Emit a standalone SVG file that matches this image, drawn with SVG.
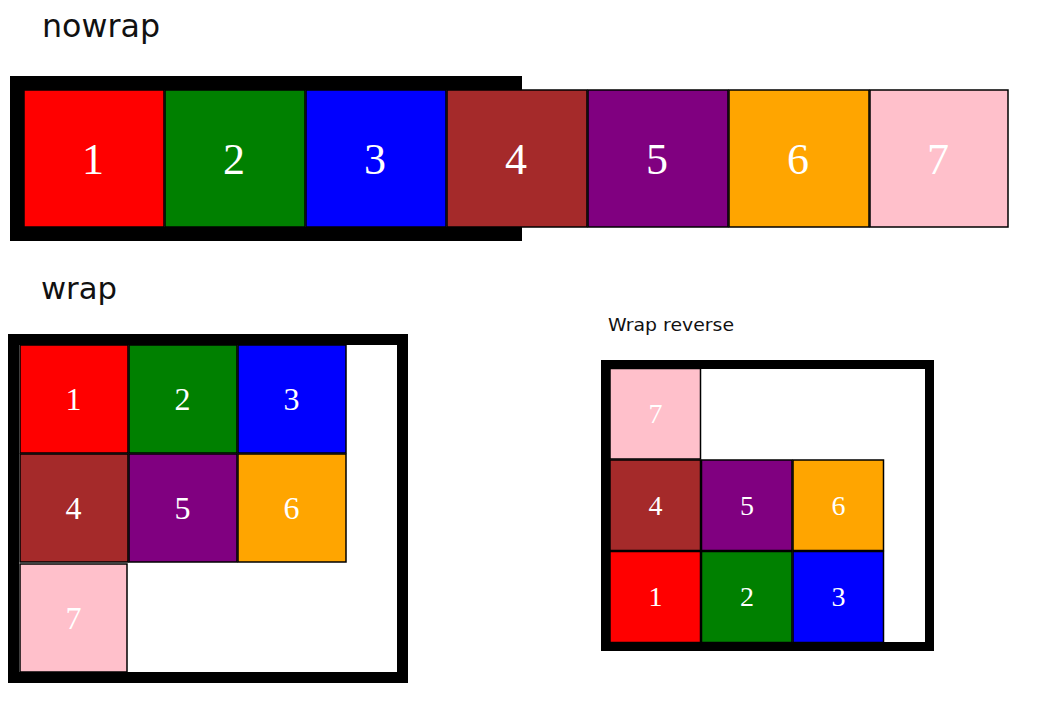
<svg xmlns="http://www.w3.org/2000/svg" width="1037" height="710" viewBox="0 0 1037 710">
<style>
.title{font-family:"DejaVu Sans",sans-serif;fill:#111}
.box{fill:none;stroke:#000}
.it{stroke:#000;stroke-width:1.5}
.n{font-family:"Liberation Serif","Times New Roman",serif;fill:#fff;text-anchor:middle}
.n1{font-size:44px}.n2{font-size:32px}.n3{font-size:28px}
.r{fill:#ff0000}.g{fill:#008000}.b{fill:#0000ff}.br{fill:#a52a2a}.p{fill:#800080}.o{fill:#ffa500}.k{fill:#ffc0cb}
</style>
<rect width="1037" height="710" fill="#fff"/>

<text class="title" x="42" y="37" font-size="32" textLength="118" lengthAdjust="spacingAndGlyphs">nowrap</text>
<text class="title" x="41" y="299" font-size="31" textLength="76" lengthAdjust="spacingAndGlyphs">wrap</text>
<text class="title" x="608" y="331" font-size="18" textLength="126" lengthAdjust="spacingAndGlyphs">Wrap reverse</text>

<g id="nowrap">
<rect class="box" x="17" y="83" width="498" height="151" stroke-width="14"/>
<g id="nw1"><rect class="it r" x="24" y="90" width="140" height="137"/><text class="n n1" x="93" y="174">1</text></g>
<g id="nw2"><rect class="it g" x="165" y="90" width="140" height="137"/><text class="n n1" x="234" y="174">2</text></g>
<g id="nw3"><rect class="it b" x="306" y="90" width="140" height="137"/><text class="n n1" x="375" y="174">3</text></g>
<g id="nw4"><rect class="it br" x="447" y="90" width="140" height="137"/><text class="n n1" x="516" y="174">4</text></g>
<g id="nw5"><rect class="it p" x="588" y="90" width="140" height="137"/><text class="n n1" x="657" y="174">5</text></g>
<g id="nw6"><rect class="it o" x="729" y="90" width="140" height="137"/><text class="n n1" x="798" y="174">6</text></g>
<g id="nw7"><rect class="it k" x="870" y="90" width="138" height="137"/><text class="n n1" x="938" y="174">7</text></g>
</g>

<g id="wrap">
<rect class="box" x="13.5" y="339.5" width="389" height="338" stroke-width="11"/>
<g id="w1"><rect class="it r" x="20" y="345" width="108" height="108"/><text class="n n2" x="73.5" y="410">1</text></g>
<g id="w2"><rect class="it g" x="129" y="345" width="108" height="108"/><text class="n n2" x="182.5" y="410">2</text></g>
<g id="w3"><rect class="it b" x="238" y="345" width="108" height="108"/><text class="n n2" x="291.5" y="410">3</text></g>
<g id="w4"><rect class="it br" x="20" y="454" width="108" height="108"/><text class="n n2" x="73.5" y="519">4</text></g>
<g id="w5"><rect class="it p" x="129" y="454" width="108" height="108"/><text class="n n2" x="182.5" y="519">5</text></g>
<g id="w6"><rect class="it o" x="238" y="454" width="108" height="108"/><text class="n n2" x="291.5" y="519">6</text></g>
<g id="w7"><rect class="it k" x="20" y="564" width="107" height="108"/><text class="n n2" x="73.5" y="629">7</text></g>
</g>

<g id="wrapreverse">
<rect class="box" x="605.5" y="364.5" width="324" height="282" stroke-width="9"/>
<g id="wr7"><rect class="it k" x="610" y="368.5" width="90.5" height="90.5"/><text class="n n3" x="655.5" y="423">7</text></g>
<g id="wr4"><rect class="it br" x="610" y="460" width="90.5" height="90.5"/><text class="n n3" x="655.5" y="515">4</text></g>
<g id="wr5"><rect class="it p" x="701.5" y="460" width="90.5" height="90.5"/><text class="n n3" x="747" y="515">5</text></g>
<g id="wr6"><rect class="it o" x="793" y="460" width="90.5" height="90.5"/><text class="n n3" x="838.5" y="515">6</text></g>
<g id="wr1"><rect class="it r" x="610" y="551.5" width="90.5" height="91"/><text class="n n3" x="655.5" y="606">1</text></g>
<g id="wr2"><rect class="it g" x="701.5" y="551.5" width="90.5" height="91"/><text class="n n3" x="747" y="606">2</text></g>
<g id="wr3"><rect class="it b" x="793" y="551.5" width="90.5" height="91"/><text class="n n3" x="838.5" y="606">3</text></g>
</g>

<g id="connectors"/>
</svg>
